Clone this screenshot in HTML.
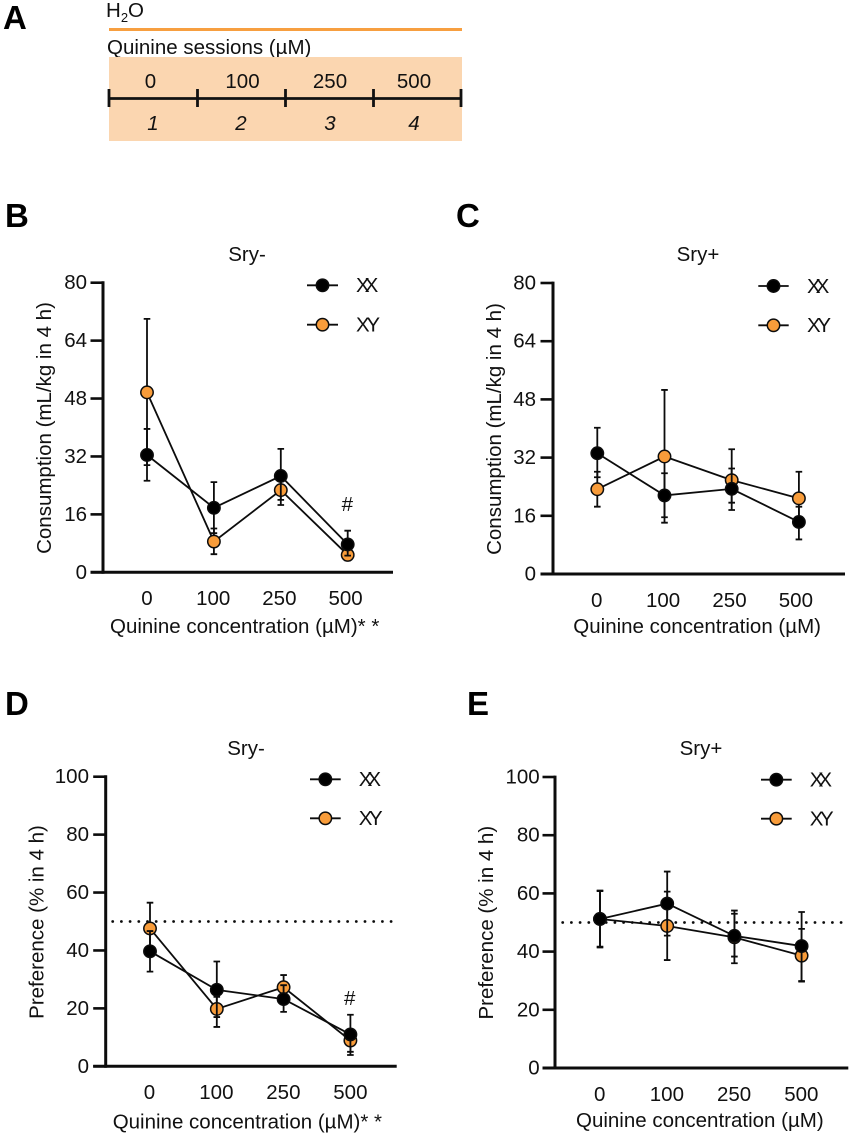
<!DOCTYPE html>
<html lang="en">
<head>
<meta charset="utf-8">
<title>Quinine consumption and preference</title>
<style>
html,body{margin:0;padding:0;background:#fff;}
svg{display:block;}
text{font-family:"Liberation Sans",Arial,sans-serif;fill:#111;font-size:20.5px;}
.letter{font-weight:bold;font-size:33px;fill:#000;}
</style>
</head>
<body>
<svg id="figure" xmlns="http://www.w3.org/2000/svg" width="851" height="1136" viewBox="0 0 851 1136">
  <rect x="0" y="0" width="851" height="1136" fill="#fff"/>
  <g>
    <text class="letter" x="3" y="29">A</text>
    <text x="106" y="17">H<tspan font-size="13" dy="5">2</tspan><tspan dy="-5">O</tspan></text>
    <line x1="109" x2="462" y1="29.5" y2="29.5" stroke="#F79F40" stroke-width="3"/>
    <text x="107" y="54">Quinine sessions (µM)</text>
    <rect x="109" y="57" width="353" height="84" fill="#FBD6B0"/>
    <line x1="109" x2="461" y1="98.5" y2="98.5" stroke="#111" stroke-width="2.8"/>
    <line x1="109" x2="109" y1="89" y2="107" stroke="#111" stroke-width="2.8"/>
    <line x1="197.5" x2="197.5" y1="89" y2="107" stroke="#111" stroke-width="2.8"/>
    <line x1="285.5" x2="285.5" y1="89" y2="107" stroke="#111" stroke-width="2.8"/>
    <line x1="373.5" x2="373.5" y1="89" y2="107" stroke="#111" stroke-width="2.8"/>
    <line x1="461" x2="461" y1="89" y2="107" stroke="#111" stroke-width="2.8"/>
    <text x="150.5" y="88" text-anchor="middle">0</text>
    <text x="242.5" y="88" text-anchor="middle">100</text>
    <text x="330" y="88" text-anchor="middle">250</text>
    <text x="414" y="88" text-anchor="middle">500</text>
    <text x="153" y="130" text-anchor="middle" font-style="italic">1</text>
    <text x="241" y="130" text-anchor="middle" font-style="italic">2</text>
    <text x="330" y="130" text-anchor="middle" font-style="italic">3</text>
    <text x="414" y="130" text-anchor="middle" font-style="italic">4</text>
  </g>
</svg>
<script>
// ---- chart data ----
const categories = ['0', '100', '250', '500'];
const consumptionTicks = [0, 16, 32, 48, 64, 80];
const preferenceTicks = [0, 20, 40, 60, 80, 100];

const bXXMean = [32.4, 17.8, 26.6, 7.7];
const bXXUpper = [39.6, 24.9, 34.1, 11.5];
const bXXLower = [25.3, 10.8, 18.6, 4.6];
const bXYMean = [49.7, 8.5, 22.7, 4.8];
const bXYUpper = [70.0, 12.1, 27.0, 6.2];
const bXYLower = [29.6, 5.0, 20.0, 3.3];

const cXXMean = [33.2, 21.6, 23.4, 14.3];
const cXXUpper = [40.2, 27.7, 29.0, 18.5];
const cXXLower = [26.6, 15.6, 17.6, 9.5];
const cXYMean = [23.3, 32.3, 25.8, 20.8];
const cXYUpper = [28.1, 50.6, 34.3, 28.1];
const cXYLower = [18.5, 14.1, 19.6, 13.5];

const dXXMean = [39.7, 26.4, 23.2, 11.0];
const dXXUpper = [46.7, 36.2, 28.0, 17.8];
const dXXLower = [32.7, 17.0, 18.8, 5.0];
const dXYMean = [47.6, 19.8, 27.3, 8.9];
const dXYUpper = [56.5, 24.0, 31.5, 12.0];
const dXYLower = [39.0, 13.6, 23.5, 3.9];

const eXXMean = [51.2, 56.5, 45.4, 41.9];
const eXXUpper = [60.8, 67.5, 54.1, 53.6];
const eXXLower = [41.7, 45.5, 36.0, 29.9];
const eXYMean = [51.2, 48.8, 44.9, 38.6];
const eXYUpper = [61.0, 60.6, 53.0, 47.8];
const eXYLower = [41.4, 37.1, 38.3, 29.7];

const chanceLevel = 50;

// ---- panel layouts ----
const panels = [
  {id:'b', letter:'B', lx:5, ly:227, title:'Sry-', tx:247, ty:261, axisX:103, y0:572.3, yTop:282.7, xEnd:393, px0:147, pStep:66.9,
   labelX0:147, labelStep:66.2, labelY:605, ticks:consumptionTicks, yMax:80, tickRight:87,
   yTitle:'Consumption (mL/kg in 4 h)', ytx:51, yty:428, xTitle:'Quinine concentration (µM)* *', xtx:110, xty:633,
   legX1:307, legX2:338, legY1:285.3, legY2:324.7, legTx:356, hash:true, hx:347.3, hy:511, dotted:false,
   xx:[bXXMean, bXXUpper, bXXLower], xy:[bXYMean, bXYUpper, bXYLower]},
  {id:'c', letter:'C', lx:456, ly:227, title:'Sry+', tx:698, ty:261, axisX:553, y0:574, yTop:283, xEnd:845, px0:597.3, pStep:67.2,
   labelX0:596.7, labelStep:66.4, labelY:607, ticks:consumptionTicks, yMax:80, tickRight:536,
   yTitle:'Consumption (mL/kg in 4 h)', ytx:501, yty:429, xTitle:'Quinine concentration (µM)', xtx:573.3, xty:633,
   legX1:758.3, legX2:788.7, legY1:286, legY2:325.3, legTx:807, hash:false, dotted:false,
   xx:[cXXMean, cXXUpper, cXXLower], xy:[cXYMean, cXYUpper, cXYLower]},
  {id:'d', letter:'D', lx:5, ly:715, title:'Sry-', tx:246, ty:755, axisX:105.7, y0:1066.3, yTop:776.7, xEnd:396.7, px0:150, pStep:66.8,
   labelX0:149.4, labelStep:67, labelY:1099, ticks:preferenceTicks, yMax:100, tickRight:89,
   yTitle:'Preference (% in 4 h)', ytx:43.3, yty:922, xTitle:'Quinine concentration (µM)* *', xtx:112.7, xty:1128.7,
   legX1:310, legX2:340.7, legY1:779.3, legY2:818.3, legTx:358.7, hash:true, hx:349.7, hy:1005, dotted:true, dot1:112.7, dot2:394,
   xx:[dXXMean, dXXUpper, dXXLower], xy:[dXYMean, dXYUpper, dXYLower]},
  {id:'e', letter:'E', lx:467, ly:715, title:'Sry+', tx:701, ty:755, axisX:555, y0:1068, yTop:777, xEnd:848.3, px0:600, pStep:67.2,
   labelX0:599.7, labelStep:67.2, labelY:1101, ticks:preferenceTicks, yMax:100, tickRight:539.7,
   yTitle:'Preference (% in 4 h)', ytx:493, yty:922.7, xTitle:'Quinine concentration (µM)', xtx:576, xty:1127,
   legX1:761, legX2:791.7, legY1:779.7, legY2:818.7, legTx:809.7, hash:false, dotted:true, dot1:562.7, dot2:846.7,
   xx:[eXXMean, eXXUpper, eXXLower], xy:[eXYMean, eXYUpper, eXYLower]}
];

const NS = 'http://www.w3.org/2000/svg';
const INK = '#0c0c0c';
const ORANGE = '#F89C3A';
const figure = document.getElementById('figure');

function make(parent, tag, props, content) {
  const node = document.createElementNS(NS, tag);
  for (const key in props) node.setAttribute(key, props[key]);
  if (content !== undefined) node.textContent = content;
  parent.appendChild(node);
  return node;
}

function drawSeries(group, p, series, name, fill, xScale, yScale) {
  const mean = series[0], upper = series[1], lower = series[2];
  let el;
  mean.forEach(function (v, i) {
    const x = xScale(i);
    el = make(group, 'path', {
      d: 'M' + x + ' ' + yScale(upper[i]) + 'V' + yScale(lower[i]) +
         'M' + (x - 3.3) + ' ' + yScale(upper[i]) + 'H' + (x + 3.3) +
         'M' + (x - 3.3) + ' ' + yScale(lower[i]) + 'H' + (x + 3.3),
      fill: 'none', stroke: INK, 'stroke-width': 1.8
    });
    
    
  });
  el = make(group, 'polyline', {
    points: mean.map(function (v, i) { return xScale(i) + ',' + yScale(v); }).join(' '),
    fill: 'none', stroke: INK, 'stroke-width': 1.8
  });
  
  
  mean.forEach(function (v, i) {
    el = make(group, 'circle', {
      cx: xScale(i), cy: yScale(v), r: 6.2, fill: fill, stroke: INK, 'stroke-width': 1.5
    });
    
    
  });
}

function drawLegendEntry(group, p, label, fill, y, spacing) {
  let el = make(group, 'line', { x1: p.legX1, x2: p.legX2, y1: y, y2: y, stroke: INK, 'stroke-width': 1.8 });
  
  
  el = make(group, 'circle', { cx: (p.legX1 + p.legX2) / 2, cy: y, r: 6.2, fill: fill, stroke: INK, 'stroke-width': 1.5 });
  
  
  el = make(group, 'text', { x: p.legTx, y: y + 6.8, 'letter-spacing': spacing }, label);
  
  
}

function drawPanel(p) {
  const xScale = function (i) { return p.px0 + i * p.pStep; };
  const yScale = function (v) { return p.y0 - (v / p.yMax) * (p.y0 - p.yTop); };
  const group = make(figure, 'g', {});
  
  
  let el;

  el = make(group, 'text', { class: 'letter', x: p.lx, y: p.ly }, p.letter);
  
  

  el = make(group, 'text', { x: p.tx, y: p.ty, 'text-anchor': 'middle' }, p.title);
  
  

  if (p.dotted) {
    el = make(group, 'line', {
      x1: p.dot1, x2: p.dot2, y1: yScale(chanceLevel), y2: yScale(chanceLevel),
      stroke: INK, 'stroke-width': 2.8, 'stroke-dasharray': '0 8.7', 'stroke-linecap': 'round'
    });
    
    
  }

  // axes
  el = make(group, 'line', { x1: p.axisX, x2: p.axisX, y1: p.yTop - 1.4, y2: p.y0 + 1.4, stroke: INK, 'stroke-width': 3 });
  
  
  el = make(group, 'line', { x1: p.axisX - 12.5, x2: p.xEnd, y1: p.y0, y2: p.y0, stroke: INK, 'stroke-width': 3 });
  
  

  p.ticks.forEach(function (t) {
    el = make(group, 'line', { x1: p.axisX - 12.5, x2: p.axisX, y1: yScale(t), y2: yScale(t), stroke: INK, 'stroke-width': 2.6 });
    
    
    el = make(group, 'text', { x: p.tickRight, y: yScale(t) + 6.5, 'text-anchor': 'end' }, String(t));
    
    
  });

  categories.forEach(function (c, i) {
    el = make(group, 'text', { x: p.labelX0 + i * p.labelStep, y: p.labelY, 'text-anchor': 'middle' }, c);
    
    
  });

  el = make(group, 'text', {
    x: p.ytx, y: p.yty, 'text-anchor': 'middle',
    transform: 'rotate(-90 ' + p.ytx + ' ' + p.yty + ')'
  }, p.yTitle);
  
  

  el = make(group, 'text', { x: p.xtx, y: p.xty }, p.xTitle);
  
  

  // series: XY sits underneath, XX is drawn over it
  drawSeries(group, p, p.xy, 'xy', ORANGE, xScale, yScale);
  drawSeries(group, p, p.xx, 'xx', '#000', xScale, yScale);

  // legend
  drawLegendEntry(group, p, 'XX', '#000', p.legY1, -5);
  drawLegendEntry(group, p, 'XY', ORANGE, p.legY2, -3.3);

  if (p.hash) {
    el = make(group, 'text', { x: p.hx, y: p.hy, 'text-anchor': 'middle' }, '#');
    
    
  }
}

panels.forEach(drawPanel);
</script>
</body>
</html>
